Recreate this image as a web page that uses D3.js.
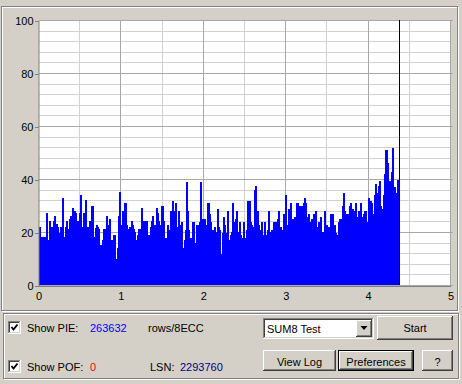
<!DOCTYPE html>
<html>
<head>
<meta charset="utf-8">
<script src="https://cdn.jsdelivr.net/npm/d3@7"></script>
<style>
  body { margin: 0; background: #d4d0c8; }
  svg { display: block; font-family: "Liberation Sans", Arial, sans-serif; font-size: 11px; }
</style>
</head>
<body>
<svg id="chart"></svg>
<script>
// PIE counts per sample (one sample per pixel)
const pieValues = [
  21,22,15,18,18,16,18,18,27,17, 17,24,22,22,19.5,24,26,22,23,22,
  13,19.5,22,22,33,17,18,22,24,21, 20,25,26,12,29,24.5,28,27,19,24,
  19,27,34,20,22,27,24,32,22,22, 17,24,21,30,30,18,14.5,21.6,22.6,22,
  21,15,15,15,17,21,21,13,26,13, 22.6,25,16,17,17,19,19,9,10,14,
  26,35,19,22.6,28,27,31,31,22.6,17.6, 21,22,14,24,22.6,21,20,15,17,19,
  21,21,19,29,24,20,24,21,24,19, 16,19,22,24,26,21,22.6,18,29,27,24,
  22.6,22.6,29.8,29.8,24,15.7,17.9,17,22.6,17, 20.8,27.9,20.8,31.7,18.9,27.9,30.8,18.9,22,27.9,
  22.6,22.6,23.7,14.1,14.1,17,20.8,39,27.9,20.8, 17,17.9,15.7,23.7,23.7,15.7,15.7,22.6,17,22.6,
  23.7,39,23.7,24.9,20.8,24.9,17.9,22.6,30.8,30.8, 26.7,23.7,20.8,20.8,19.9,22,14.8,20,28.7,22,
  20.8,11.7,11.7,19.5,25.7,22.6,19.5,19,27.9,17, 14.1,18.9,19.9,30.8,23.7,20.8,24.9,27.9,19.9,19.9,
  23.7,18.9,17.9,17,23.7,17.9,17,20.8,31.7,31.7, 31.7,23.7,22.6,19.9,22,35.8,37.2,25.7,27.9,22.6,
  20.8,19.9,23.7,18.9,18.9,23.7,15.7,18.9,20.8,27.9, 19.9,18.9,20.8,20.8,23.7,14.8,23.7,22,25,27.9,
  21,22,16,20.8,26.8,26.8,34,22.6,22.6,28.7, 22,30.8,24.9,24.9,24.9,25.5,22.6,30.8,30.8,24.9,
  29.8,24.9,29.8,27,30.8,32.7,31,25.5,25.5,26.8, 22.6,23.9,24.9,20.8,26.8,19.7,27.9,22,20.8,23.9,
  20.8,25.5,20.1,20.1,20.1,27.9,19.7,22.6,19.7,21.7, 18.7,26.8,19.7,26.8,21.7,22.6,19.7,18.7,17.8,23.9,
  24.9,23.9,24.9,29.8,34.8,27.9,23.9,26.8,26.8,23.9, 29.8,30.8,23.9,28.7,27.9,22.6,31,25.5,24.9,27.9,
  27.9,31,25.5,22,26.8,27.9,27.9,23.9,20.8,32.7, 31,31.8,30.8,26.8,22.6,34,38.3,34.8,30.8,37.2,
  39.2,29.8,28.7,23.9,34,41.9,50.9,50.9,45.9,32, 39.2,23.9,42.8,51.6,32.7,37,34.8,32.7,39.6,39.6
];
const dataEnd = 4.38;          // GB, where the scan stopped
const xTicks = [0, 1, 2, 3, 4, 5];
const xMinorTicks = [0.5, 1.5, 2.5, 3.5, 4.5];
const yTicks = [0, 20, 40, 60, 80, 100];
const yMinorTicks = d3.range(4, 100, 4).filter(v => v % 20 !== 0);
const pieTotal = "263632";
const pofTotal = "0";
const lsnValue = "2293760";
const testModes = ["SUM8 Test"];

const svgWidth = 462, svgHeight = 384;
const svg = d3.select("#chart").attr("width", svgWidth).attr("height", svgHeight);

const face = "#d4d0c8", shadow = "#808080", dark = "#404040", light = "#ffffff";

svg.append("rect").attr("width", svgWidth).attr("height", svgHeight).attr("fill", face);

// etched frame helper
function etched(x, y, w, h) {
  svg.append("rect").attr("x", x + 1.5).attr("y", y + 1.5).attr("width", w).attr("height", h)
    .attr("fill", "none").attr("stroke", light);
  svg.append("rect").attr("x", x + 0.5).attr("y", y + 0.5).attr("width", w).attr("height", h)
    .attr("fill", "none").attr("stroke", shadow);
}
etched(1, 6, 456, 304);
etched(3, 313, 455, 65);

// scales
const xScale = d3.scaleLinear().domain([0, 5]).range([38.5, 450.5]);
const yScale = d3.scaleLinear().domain([0, 100]).range([285, 20]);

const plot = svg.append("g").attr("shape-rendering", "crispEdges");

plot.append("rect")
  .attr("x", xScale(0)).attr("y", yScale(100))
  .attr("width", xScale(5) - xScale(0)).attr("height", yScale(0) - yScale(100))
  .attr("fill", "#ffffff");

// grid
plot.selectAll(".hminor").data(yMinorTicks).enter().append("line")
  .attr("x1", xScale(0)).attr("x2", xScale(5))
  .attr("y1", d => Math.round(yScale(d)) + 0.5).attr("y2", d => Math.round(yScale(d)) + 0.5)
  .attr("stroke", "#d0d0d0");
plot.selectAll(".vminor").data(xMinorTicks).enter().append("line")
  .attr("x1", d => xScale(d)).attr("x2", d => xScale(d))
  .attr("y1", yScale(100)).attr("y2", yScale(0))
  .attr("stroke", "#d0d0d0");
plot.selectAll(".vmajor").data(xTicks.slice(1)).enter().append("line")
  .attr("x1", d => xScale(d)).attr("x2", d => xScale(d))
  .attr("y1", yScale(100)).attr("y2", yScale(0))
  .attr("stroke", "#a8a8a8");
plot.selectAll(".hmajor").data(yTicks).enter().append("line")
  .attr("x1", xScale(0)).attr("x2", xScale(5) + 2)
  .attr("y1", d => Math.round(yScale(d)) + 0.5).attr("y2", d => Math.round(yScale(d)) + 0.5)
  .attr("stroke", "#a8a8a8");

// bars
const step = dataEnd / pieValues.length;
plot.selectAll(".bar").data(pieValues).enter().append("rect")
  .attr("class", "bar")
  .attr("x", (d, i) => xScale(i * step))
  .attr("width", xScale(step) - xScale(0) + 0.4)
  .attr("y", d => yScale(d))
  .attr("height", d => yScale(0) - yScale(d))
  .attr("fill", "#0000ff");

// scan end marker
plot.append("line")
  .attr("x1", xScale(dataEnd)).attr("x2", xScale(dataEnd))
  .attr("y1", yScale(100)).attr("y2", yScale(0))
  .attr("stroke", "#000000");

// axes
const yAxis = svg.append("g")
  .attr("transform", `translate(${xScale(0)},0.5)`)
  .call(d3.axisLeft(yScale).tickValues(yTicks).tickFormat(d3.format("d"))
    .tickSize(4).tickSizeOuter(0).tickPadding(1));
yAxis.select(".domain").attr("stroke", shadow);
yAxis.selectAll(".tick line").attr("stroke", shadow).attr("shape-rendering", "crispEdges");
yAxis.selectAll("text").attr("fill", "#000").style("font-size", "11px")
  .style("font-family", "'Liberation Sans', Arial, sans-serif");

const xAxis = svg.append("g")
  .attr("transform", `translate(0,${yScale(0) + 0.5})`)
  .call(d3.axisBottom(xScale).tickValues(xTicks).tickFormat(d3.format("d"))
    .tickSize(0).tickSizeOuter(0).tickPadding(7));
xAxis.select(".domain").attr("stroke", shadow).attr("shape-rendering", "crispEdges");
xAxis.selectAll("text").attr("fill", "#000").style("font-size", "11px")
  .style("font-family", "'Liberation Sans', Arial, sans-serif");

// ---- controls ----
function checkbox(x, y) {
  const g = svg.append("g").attr("shape-rendering", "crispEdges");
  g.append("rect").attr("x", x).attr("y", y).attr("width", 13).attr("height", 13).attr("fill", light);
  g.append("rect").attr("x", x).attr("y", y).attr("width", 12).attr("height", 12).attr("fill", shadow);
  g.append("rect").attr("x", x + 1).attr("y", y + 1).attr("width", 11).attr("height", 11).attr("fill", face);
  g.append("rect").attr("x", x + 1).attr("y", y + 1).attr("width", 10).attr("height", 10).attr("fill", dark);
  g.append("rect").attr("x", x + 2).attr("y", y + 2).attr("width", 9).attr("height", 9).attr("fill", light);
  svg.append("path")
    .attr("d", `M${x + 3.5},${y + 6} L${x + 5.5},${y + 8.5} L${x + 9.5},${y + 3.5}`)
    .attr("fill", "none").attr("stroke", "#000").attr("stroke-width", 1.8);
}

function raised(x, y, w, h, isDefault) {
  const g = svg.append("g").attr("shape-rendering", "crispEdges");
  if (isDefault) {
    g.append("rect").attr("x", x).attr("y", y).attr("width", w).attr("height", h).attr("fill", "#000");
    x += 1; y += 1; w -= 2; h -= 2;
  }
  g.append("rect").attr("x", x).attr("y", y).attr("width", w).attr("height", h).attr("fill", dark);
  g.append("rect").attr("x", x).attr("y", y).attr("width", w - 1).attr("height", h - 1).attr("fill", light);
  g.append("rect").attr("x", x + 1).attr("y", y + 1).attr("width", w - 2).attr("height", h - 2).attr("fill", shadow);
  g.append("rect").attr("x", x + 1).attr("y", y + 1).attr("width", w - 3).attr("height", h - 3).attr("fill", face);
}

function label(x, y, text, color, anchor) {
  svg.append("text").attr("x", x).attr("y", y).attr("fill", color || "#000")
    .attr("text-anchor", anchor || "start").text(text);
}

checkbox(8, 321);
label(27, 332, "Show PIE:");
label(90, 331.5, pieTotal, "#0000ff");
label(148, 331.5, "rows/8ECC");

checkbox(8, 360);
label(27, 371, "Show POF:");
label(90, 371, pofTotal, "#ff0000");
label(150, 370.5, "LSN:");
label(180, 370.5, lsnValue, "#000080");

// combo box
{
  const g = svg.append("g").attr("shape-rendering", "crispEdges");
  g.append("rect").attr("x", 263).attr("y", 318).attr("width", 111).attr("height", 21).attr("fill", light);
  g.append("rect").attr("x", 263).attr("y", 318).attr("width", 110).attr("height", 20).attr("fill", shadow);
  g.append("rect").attr("x", 264).attr("y", 319).attr("width", 109).attr("height", 19).attr("fill", face);
  g.append("rect").attr("x", 264).attr("y", 319).attr("width", 108).attr("height", 18).attr("fill", dark);
  g.append("rect").attr("x", 265).attr("y", 320).attr("width", 107).attr("height", 17).attr("fill", light);
  raised(356, 320, 16, 17, false);
  svg.append("path").attr("d", "M360.5,326 L367.5,326 L364,330 Z").attr("fill", "#000");
  label(267, 333, testModes[0]);
}

raised(377, 316, 76, 24, false);
label(415, 331.5, "Start", "#000", "middle");

raised(263, 350, 73, 21, false);
label(299.5, 365.5, "View Log", "#000", "middle");

raised(338, 350, 76, 21, true);
label(376, 365.5, "Preferences", "#000", "middle");

raised(422, 350, 31, 21, false);
label(437.5, 365.5, "?", "#000", "middle");
</script>
</body>
</html>
